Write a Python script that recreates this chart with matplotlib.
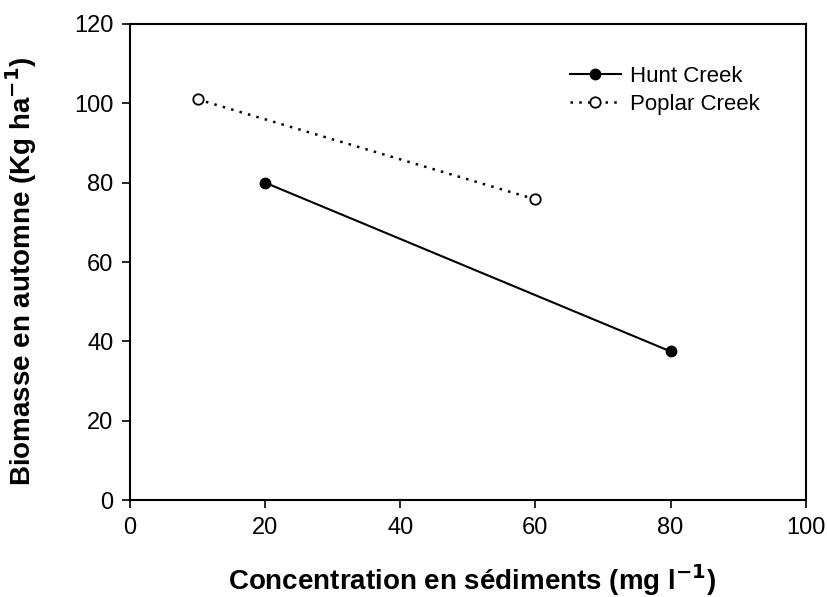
import matplotlib
matplotlib.use("Agg")
import matplotlib.pyplot as plt

plt.rcParams['font.family'] = ['Liberation Sans', 'DejaVu Sans']

hunt_x = [20, 80]
hunt_y = [80, 37.5]
poplar_x = [10, 60]
poplar_y = [101, 75.8]
xticks = [0, 20, 40, 60, 80, 100]
yticks = [0, 20, 40, 60, 80, 100, 120]

fig = plt.figure(figsize=(8.28, 5.97), dpi=100)
ax = fig.add_axes([0.157, 0.162, 0.816, 0.798])

ax.plot(hunt_x, hunt_y, color='black', linestyle='-', linewidth=1.5,
        marker='o', markersize=7.5, markerfacecolor='black', markeredgecolor='black',
        label='Hunt Creek')
ax.plot(poplar_x, poplar_y, color='black', linestyle=(0, (1, 2.5)), linewidth=1.8,
        marker='o', markersize=7.5, markerfacecolor='white', markeredgecolor='black',
        markeredgewidth=1.3, label='Poplar Creek')

ax.set_xlim(0, 100)
ax.set_ylim(0, 120)
ax.set_xticks(xticks)
ax.set_yticks(yticks)
ax.tick_params(direction='out', length=6, width=1.2, labelsize=17, pad=6,
               top=False, right=False)
for s in ax.spines.values():
    s.set_linewidth(1.5)

ax.set_xlabel('Concentration en sédiments (mg l$^{\\mathbf{-1}}$)', fontsize=20,
              fontweight='bold')
ax.set_ylabel('Biomasse en automne (Kg ha$^{\\mathbf{-1}}$)', fontsize=20,
              fontweight='bold')
ax.xaxis.set_label_coords(0.506, -0.13)
ax.yaxis.set_label_coords(-0.135, 0.48)

ax.legend(loc='upper right', bbox_to_anchor=(0.945, 0.93), frameon=False, fontsize=16,
          handlelength=2.3, handletextpad=0.4, labelspacing=0.3, borderaxespad=0)

fig.savefig('out.png', dpi=100)
